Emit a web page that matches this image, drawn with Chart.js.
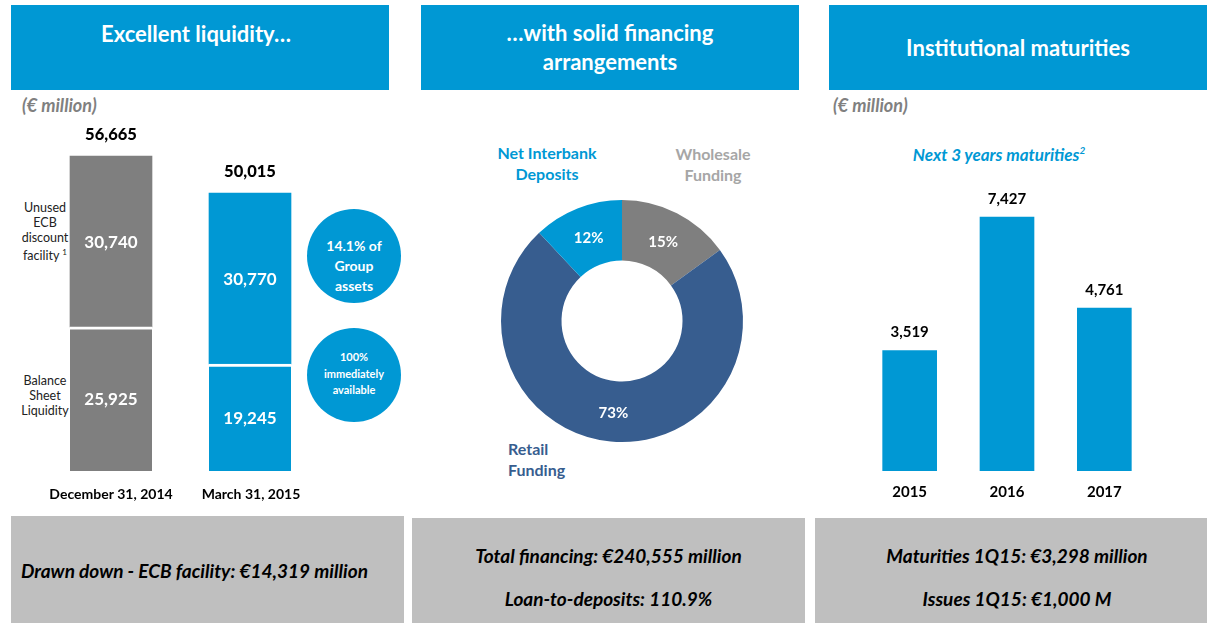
<!DOCTYPE html>
<html><head><meta charset="utf-8">
<script src="https://cdn.jsdelivr.net/npm/chart.js@4.4.0/dist/chart.umd.min.js"></script>
<style>
html,body{margin:0;padding:0}
body{width:1207px;height:623px;position:relative;background:#fff;font-family:Lato,"Noto Sans",sans-serif;overflow:hidden}
.hdr{position:absolute;top:5px;height:85px;background:#0098D4;color:#fff;font-weight:bold;font-size:22px;text-align:center;line-height:29px;box-sizing:border-box}
.ftr{position:absolute;bottom:0;background:#BFBFBF;color:#000;font-weight:bold;font-style:italic;font-size:19px;text-align:center;box-sizing:border-box}
.t{position:absolute;white-space:nowrap}
.unit{color:#808080;font-weight:bold;font-style:italic;font-size:18px}
.side{font-size:12.5px;color:#222;text-align:center;line-height:15px}
.circ{position:absolute;width:94px;height:94px;border-radius:50%;background:#0098D4;color:#fff;font-weight:bold;text-align:center;box-sizing:border-box}
.cw{position:absolute}
.dl{font-weight:bold;font-size:16px;line-height:21px;text-align:center}
</style>
</head><body>

<div class="hdr" style="left:11px;width:378px;padding-top:14px;padding-right:8px">Excellent liquidity…</div>
<div class="hdr" style="left:421px;width:378px;padding-top:13px">…with solid financing<br>arrangements</div>
<div class="hdr" style="left:829px;width:378px;padding-top:28px">Institutional maturities</div>

<div class="t unit" style="left:22px;top:94px">(€ million)</div>
<div class="t unit" style="left:833px;top:94px">(€ million)</div>

<div class="t side" style="left:13px;top:200px;width:64px">Unused<br>ECB<br>discount<br>facility <sup style="font-size:8px">1</sup></div>
<div class="t side" style="left:13px;top:373px;width:64px">Balance<br>Sheet<br>Liquidity</div>

<div class="circ" style="left:307px;top:209px;padding-top:27px;font-size:14px;line-height:20px">14.1% of<br>Group<br>assets</div>
<div class="circ" style="left:307px;top:328px;padding-top:21px;font-size:11px;line-height:16.5px">100%<br>immediately<br>available</div>

<div class="t dl" style="left:477px;top:142px;width:140px;color:#0098D4">Net Interbank<br>Deposits</div>
<div class="t dl" style="left:643px;top:143px;width:140px;color:#A6A6A6">Wholesale<br>Funding</div>
<div class="t dl" style="left:508px;top:438px;text-align:left;color:#375D8F">Retail<br>Funding</div>

<div class="t" style="left:820px;top:144px;width:358px;text-align:center;color:#0098D4;font-weight:bold;font-style:italic;font-size:17px">Next 3 years maturities<sup style="font-size:10px">2</sup></div>

<div class="cw" style="left:0;top:90px;width:410px;height:420px"><canvas id="c1" width="410" height="420"></canvas></div>
<div class="cw" style="left:410px;top:90px;width:420px;height:420px"><canvas id="c2" width="420" height="420"></canvas></div>
<div class="cw" style="left:820px;top:90px;width:387px;height:420px"><canvas id="c3" width="387" height="420"></canvas></div>

<div class="ftr" style="left:11px;width:393px;top:516px;padding-top:43px;padding-right:26px">Drawn down - ECB facility: €14,319 million</div>
<div class="ftr" style="left:412px;width:393px;top:518px;padding-top:26px;line-height:23px">Total financing: €240,555 million<br><span style="display:inline-block;margin-top:20px">Loan-to-deposits: 110.9%</span></div>
<div class="ftr" style="left:815px;width:392px;top:518px;padding-top:26px;padding-left:12px;line-height:23px">Maturities 1Q15: €3,298 million<br><span style="display:inline-block;margin-top:20px">Issues 1Q15: €1,000 M</span></div>

<script>
// ---- Data ----
const liqCategories = ['December 31, 2014', 'March 31, 2015'];
const liqBalanceSheet = [25925, 19245];
const liqUnusedECB = [30740, 30770];
const liqTotals = [56665, 50015];

const finLabels = ['Wholesale Funding', 'Retail Funding', 'Net Interbank Deposits'];
const finShares = [15, 73, 12];

const matYears = ['2015', '2016', '2017'];
const matValues = [3519, 7427, 4761];

// ---- Styles ----
const BLUE = '#0098D4', GRAY = '#7F7F7F', DARK = '#375D8F';
const FONT = 'Lato, "Noto Sans", sans-serif';
const fmt = v => v.toLocaleString('en-US');

Chart.defaults.animation = false;
Chart.defaults.responsive = false;
Chart.defaults.plugins.legend.display = false;
Chart.defaults.plugins.tooltip.enabled = false;

// Chart 1: stacked liquidity bars
new Chart(document.getElementById('c1'), {
  type: 'bar',
  data: {
    labels: liqCategories,
    datasets: [
      { data: liqBalanceSheet, backgroundColor: [GRAY, BLUE], borderColor: '#fff',
        borderWidth: {top: 3, left: 0, right: 0, bottom: 0}, borderSkipped: false, barThickness: 82 },
      { data: liqUnusedECB, backgroundColor: [GRAY, BLUE], borderWidth: 0, barThickness: 82 }
    ]
  },
  options: {
    layout: { padding: { left: 41.5, right: 90.5, top: 47.5, bottom: 39 } },
    scales: {
      x: { stacked: true, display: false },
      y: { stacked: true, display: false, min: 0, max: 60000 }
    }
  },
  plugins: [{
    id: 'lbl1',
    afterDatasetsDraw(chart) {
      const ctx = chart.ctx;
      ctx.save();
      ctx.textAlign = 'center'; ctx.textBaseline = 'middle';
      chart.data.datasets.forEach((ds, di) => {
        chart.getDatasetMeta(di).data.forEach((bar, i) => {
          ctx.fillStyle = '#fff';
          ctx.font = 'bold 17px ' + FONT;
          ctx.fillText(fmt(ds.data[i]), bar.x, (bar.y + bar.base) / 2 + 1);
        });
      });
      const top = chart.getDatasetMeta(1).data;
      ctx.fillStyle = '#000';
      ctx.font = '900 16.5px ' + FONT;
      top.forEach((bar, i) => ctx.fillText(fmt(liqTotals[i]), bar.x, bar.y - 21));
      ctx.font = 'bold 14px ' + FONT;
      liqCategories.forEach((c, i) => ctx.fillText(c, chart.scales.x.getPixelForValue(i) + (i ? 1 : 0), 404));
      ctx.restore();
    }
  }]
});

// Chart 2: doughnut
new Chart(document.getElementById('c2'), {
  type: 'doughnut',
  data: {
    labels: finLabels,
    datasets: [{ data: finShares, backgroundColor: [GRAY, DARK, BLUE], borderWidth: 0 }]
  },
  options: {
    cutout: '50%',
    layout: { padding: { left: 91, right: 87, top: 110, bottom: 68 } }
  },
  plugins: [{
    id: 'lbl2',
    afterDatasetsDraw(chart) {
      const ctx = chart.ctx;
      ctx.save();
      ctx.textAlign = 'center'; ctx.textBaseline = 'middle';
      ctx.fillStyle = '#fff';
      ctx.font = 'bold 15px ' + FONT;
      chart.getDatasetMeta(0).data.forEach((arc, i) => {
        const p = arc.tooltipPosition();
        ctx.fillText(finShares[i] + '%', p.x, p.y + 2);
      });
      ctx.restore();
    }
  }]
});

// Chart 3: maturities
new Chart(document.getElementById('c3'), {
  type: 'bar',
  data: {
    labels: matYears,
    datasets: [{ data: matValues, backgroundColor: BLUE, borderWidth: 0, barThickness: 54 }]
  },
  options: {
    layout: { padding: { left: 41, right: 54, top: 39, bottom: 39 } },
    scales: {
      x: { display: false },
      y: { display: false, min: 0, max: 10000 }
    }
  },
  plugins: [{
    id: 'lbl3',
    afterDatasetsDraw(chart) {
      const ctx = chart.ctx;
      ctx.save();
      ctx.textAlign = 'center'; ctx.textBaseline = 'middle';
      ctx.fillStyle = '#000';
      ctx.font = 'bold 15px ' + FONT;
      chart.getDatasetMeta(0).data.forEach((bar, i) => ctx.fillText(fmt(matValues[i]), bar.x, bar.y - 18));
      matYears.forEach((y, i) => ctx.fillText(y, chart.scales.x.getPixelForValue(i), 402));
      ctx.restore();
    }
  }]
});
</script>
</body></html>
